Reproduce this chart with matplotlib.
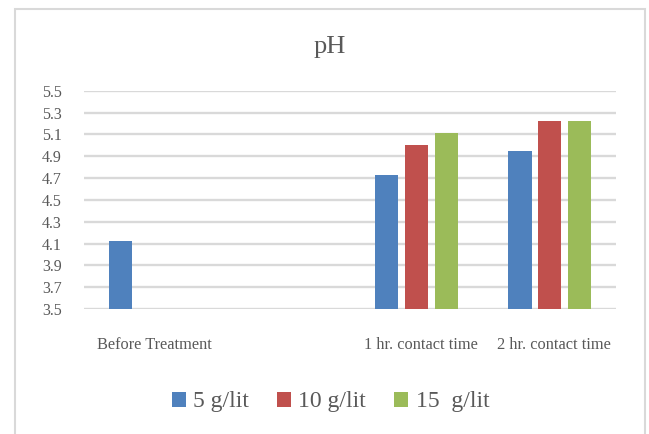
import numpy as np
import matplotlib
matplotlib.use('Agg')
import matplotlib.pyplot as plt
from matplotlib.patches import Rectangle

plt.rcParams['font.family'] = ['Liberation Serif', 'DejaVu Serif']

# pH readings per dose (None = not measured)
categories = ['Before Treatment', '', '1 hr. contact time', '2 hr. contact time']
series_names = ['5 g/lit', '10 g/lit', '15  g/lit']
ph_5 = [4.12, None, 4.73, 4.95]
ph_10 = [None, None, 5.00, 5.22]
ph_15 = [None, None, 5.11, 5.22]
colors = ['#4F81BD', '#C0504D', '#9BBB59']
yticks = [3.5, 3.7, 3.9, 4.1, 4.3, 4.5, 4.7, 4.9, 5.1, 5.3, 5.5]

txt = '#595959'
fig = plt.figure(figsize=(6.49, 4.34), dpi=100)
ax = fig.add_axes([0.1294, 0.288, 0.9492 - 0.1294, 0.791 - 0.288])

ind = np.arange(len(categories))
width = 0.173
step = 0.222
for k, (vals, name, col) in enumerate(zip([ph_5, ph_10, ph_15], series_names, colors)):
    xs = [i + (k - 1) * step for i, v in zip(ind, vals) if v is not None]
    hs = [v - 3.5 for v in vals if v is not None]
    ax.bar(xs, hs, width, bottom=3.5, color=col, label=name, zorder=3)

ax.set_xlim(-0.5, len(categories) - 0.5)
ax.set_ylim(3.5, 5.5)
ax.set_yticks(yticks)
ax.set_yticklabels(['%.1f' % t for t in yticks])
ax.set_xticks(ind + 0.03)
ax.set_xticklabels(categories)
ax.yaxis.grid(True, color='#d9d9d9', linewidth=1.7, zorder=0)
ax.set_axisbelow(True)
for s in ax.spines.values():
    s.set_visible(False)
ax.tick_params(axis='x', length=0, pad=20, labelsize=11.8, labelcolor=txt)
ax.tick_params(axis='y', length=0, pad=16, labelsize=11.5, labelcolor=txt)

fig.text(0.508, 1 - 47.5 / 434, 'pH', ha='center', va='center', fontsize=19, color=txt)

fig.legend(loc='center', bbox_to_anchor=(0.509, 1 - 402 / 434), ncol=3, frameon=False,
           fontsize=17, labelcolor=txt, handlelength=0.6, handleheight=0.6,
           handletextpad=0.3, columnspacing=1.2)

# chart outline
fig.patches.append(Rectangle((0.0227, -0.05), 0.9938 - 0.0227, 0.979 + 0.05,
                             transform=fig.transFigure, fill=False,
                             edgecolor='#d9d9d9', linewidth=1.5))

plt.savefig('out.png')
